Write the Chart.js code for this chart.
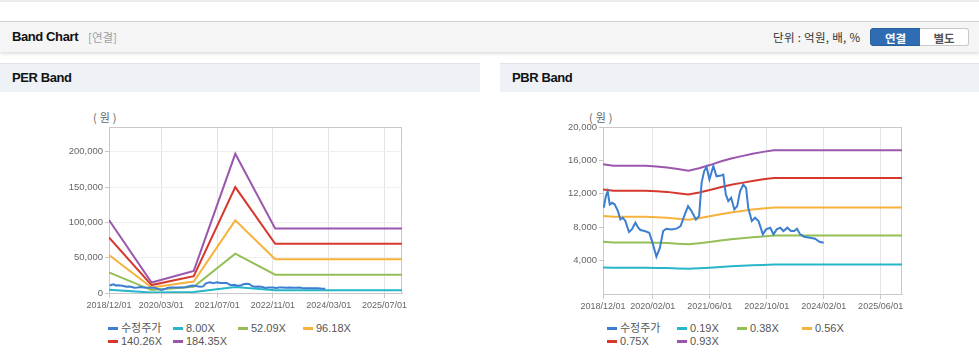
<!DOCTYPE html>
<html><head><meta charset="utf-8">
<script src="https://cdn.jsdelivr.net/npm/chart.js@4.4.1/dist/chart.umd.min.js"></script>
<style>
html,body{margin:0;padding:0;background:#fff;}
body{width:979px;height:361px;position:relative;overflow:hidden;font-family:"Liberation Sans","Noto Sans CJK KR",sans-serif;}
.topline{position:absolute;left:0;top:0;width:979px;height:2px;background:#ebebeb;}
.hdr{position:absolute;left:0;top:21px;width:979px;height:30px;background:#f5f5f5;border-top:1px solid #d0d0d0;box-shadow:0 2px 3px rgba(0,0,0,0.13);}
.hdr .t{position:absolute;left:12px;top:7px;font-size:13px;font-weight:bold;color:#111;letter-spacing:-0.4px;}
.hdr .s{position:absolute;left:88px;top:8px;font-size:11.5px;color:#9a9fa8;font-family:"Noto Sans CJK KR",sans-serif;line-height:14px;}
.hdr .u{position:absolute;left:773px;top:8px;font-size:11.5px;color:#333;font-family:"Noto Sans CJK KR",sans-serif;line-height:14px;letter-spacing:0.3px;}
.btn{position:absolute;top:6px;height:18px;line-height:18px;text-align:center;font-size:11.5px;font-weight:bold;font-family:"Noto Sans CJK KR",sans-serif;box-sizing:border-box;}
.b1{left:870px;width:51px;background:#2e6db3;color:#fff;border-radius:3px 0 0 3px;border:1px solid #285f9c;}
.b2{left:920px;width:49px;background:#fff;color:#555;border:1px solid #c8c8c8;border-left:none;border-radius:0 3px 3px 0;}
.ph{position:absolute;top:63px;height:28px;background:#eef2f7;border-top:1px solid #dfe4ea;}
.ph span{position:absolute;left:12px;top:6px;font-size:13px;font-weight:bold;color:#111;letter-spacing:-0.4px;}
.unit{position:absolute;font-size:11px;color:#666;font-family:"Noto Sans CJK KR",sans-serif;line-height:12px;letter-spacing:3px;}
canvas{position:absolute;}
.lg{position:absolute;font-size:11px;color:#555;line-height:13px;}
.lg .row{display:flex;height:13px;}
.lg .it{display:flex;align-items:center;white-space:nowrap;}
.lg .mk{display:inline-block;width:10px;height:3px;margin-right:3px;}
.lg .tx{font-family:"Liberation Sans","Noto Sans CJK KR",sans-serif;}
</style>
</head>
<body>
<div class="topline"></div>
<div class="hdr"><span class="t">Band Chart</span><span class="s">[연결]</span><span class="u">단위 : 억원, 배, %</span><div class="btn b1">연결</div><div class="btn b2">별도</div></div>
<div class="ph" style="left:0;width:480px;"><span>PER Band</span></div>
<div class="ph" style="left:500px;width:479px;"><span>PBR Band</span></div>
<div class="unit" style="left:93px;top:111px;">(원)</div>
<div class="unit" style="left:589px;top:111px;">(원)</div>
<canvas id="per" width="480" height="225" style="left:0;top:95px;"></canvas>
<canvas id="pbr" width="479" height="225" style="left:500px;top:95px;"></canvas>
<div class="lg" id="lgPer" style="left:108px;top:322px;"></div>
<div class="lg" id="lgPbr" style="left:607px;top:322px;"></div>
<script>
// ---------- data ----------
const axisStart = '2018/12/01';
const axisEnd = '2025/12/01';

const perTickLabels = ['2018/12/01','2020/03/01','2021/07/01','2022/11/01','2024/03/01','2025/07/01'];
const pbrTickLabels = ['2018/12/01','2020/02/01','2021/06/01','2022/10/01','2024/02/01','2025/06/01'];
const perYTicks = [0, 50000, 100000, 150000, 200000];
const pbrYTicks = [4000, 8000, 12000, 16000, 20000];

const priceDates = ['2018/12/07','2018/12/25','2019/01/10','2019/01/28','2019/02/19','2019/03/10','2019/04/07','2019/04/28','2019/05/19','2019/06/10','2019/07/10','2019/08/04','2019/09/04','2019/09/28','2019/10/16','2019/11/22','2020/01/01','2020/01/28','2020/03/01','2020/04/01','2020/04/28','2020/05/25','2020/07/10','2020/08/25','2020/09/25','2020/11/01','2020/11/28','2020/12/28','2021/02/04','2021/03/01','2021/03/22','2021/04/13','2021/05/04','2021/05/28','2021/06/10','2021/07/01','2021/07/28','2021/09/04','2021/09/25','2021/10/16','2021/11/07','2021/12/01','2021/12/28','2022/01/22','2022/02/16','2022/03/13','2022/04/07','2022/04/25','2022/05/25','2022/06/22','2022/07/22','2022/08/28','2022/09/25','2022/11/01','2022/11/28','2022/12/25','2023/01/25','2023/02/22','2023/03/25','2023/04/25','2023/05/22','2023/06/16','2023/07/13','2023/08/16','2023/10/07','2023/11/19','2023/12/25','2024/02/01'];
const priceValues = [10330,11710,12310,10720,10920,10720,9920,8930,9130,8730,7420,7740,8540,7940,7660,7540,7340,6150,4470,5550,7540,7820,7740,7860,8130,9530,10520,9920,8930,9330,13310,14700,15220,13710,14300,15300,14100,14180,14300,11920,11120,11520,10130,10520,12310,13110,12710,10330,8730,9130,8730,7140,7740,7940,7140,7740,7940,7540,7940,7540,7540,7820,7140,6860,6740,6620,6260,6150];

const perBandDates = ['2018/12/01','2019/12/07','2020/12/10','2021/12/07','2022/11/20','2025/12/01'];
const per800 = [4480, 640, 1360, 8550, 3970, 3970];
const per5209 = [29170, 4170, 8860, 55680, 25840, 25840];
const per9618 = [53860, 7690, 16350, 102820, 47710, 47710];
const per14026 = [78550, 11220, 23840, 149940, 69570, 69570];
const per18435 = [103240, 14750, 31340, 197070, 91440, 91440];

const pbrBandDates = ['2018/12/01','2019/03/01','2019/12/01','2020/03/01','2020/06/01','2020/09/01','2020/12/01','2021/03/01','2021/06/01','2021/09/01','2021/12/01','2022/03/01','2022/06/01','2022/09/01','2022/12/01','2025/12/01'];
const pbr019 = [3170,3140,3140,3120,3100,3060,3020,3080,3150,3240,3320,3370,3430,3480,3520,3520];
const pbr038 = [6250,6180,6180,6150,6100,6030,5950,6080,6230,6400,6560,6680,6800,6900,7000,7000];
const pbr056 = [9350,9240,9240,9200,9130,9020,8890,9070,9300,9550,9770,9940,10110,10250,10360,10360];
const pbr075 = [12530,12380,12380,12320,12230,12080,11910,12150,12450,12790,13090,13310,13540,13730,13880,13880];
const pbr093 = [15530,15350,15350,15270,15160,14970,14770,15070,15440,15860,16230,16510,16790,17020,17210,17210];

const perLabels = ['수정주가','8.00X','52.09X','96.18X','140.26X','184.35X'];
const pbrLabels = ['수정주가','0.19X','0.38X','0.56X','0.75X','0.93X'];

// ---------- styles ----------
const colors = ['#3c7fd1','#27b6c8','#93bf55','#f6b23d','#d6382d','#9b57ad'];

function monthIndex(s){
  const [y,m,d] = s.split('/').map(Number);
  const [y0,m0,d0] = axisStart.split('/').map(Number);
  return (y - y0) * 12 + (m - m0) + (d - d0) / 30;
}
function pts(dates, vals){ return dates.map((d,i)=>({x: monthIndex(d), y: vals[i]})); }

const frame = {
  id: 'frame',
  beforeDatasetsDraw(chart){
    const a = chart.chartArea, c = chart.ctx;
    c.save(); c.strokeStyle = '#c9c9c9'; c.lineWidth = 1;
    c.strokeRect(Math.round(a.left)+0.5, Math.round(a.top)+0.5, Math.round(a.right-a.left)-1, Math.round(a.bottom-a.top));
    c.restore();
  }
};

function makeChart(id, labels, series, tickLabels, yTicks, yMax, yAxisWidth, padRight, xHeight, hGrid){
  const datasets = series.map((s,i)=>({
    label: labels[i], data: s, borderColor: colors[i], backgroundColor: colors[i],
    borderWidth: 2, pointRadius: 0, tension: 0, fill: false
  }));
  return new Chart(document.getElementById(id), {
    type: 'line',
    data: { datasets },
    plugins: [frame],
    options: {
      responsive: false, animation: false, devicePixelRatio: 1,
      layout: { padding: { left: 0, top: 32, right: padRight, bottom: 0 } },
      plugins: { legend: { display: false }, tooltip: { enabled: false } },
      scales: {
        x: {
          type: 'linear', bounds: 'data',
          min: monthIndex(axisStart), max: monthIndex(axisEnd),
          afterBuildTicks: ax => { ax.ticks = tickLabels.map(t => ({ value: monthIndex(t) })); },
          afterFit: ax => { ax.height = xHeight; },
          ticks: { autoSkip: false, maxRotation: 0, padding: 2, color: '#666',
            font: { family: 'Liberation Sans', size: 9 },
            callback: (v, i) => tickLabels[i] },
          grid: { color: '#e4e4e4', tickColor: '#c9c9c9', tickLength: 5 },
          border: { color: '#c9c9c9' }
        },
        y: {
          type: 'linear', bounds: 'data', min: 0, max: yMax,
          afterBuildTicks: ax => { ax.ticks = yTicks.map(v => ({ value: v })); },
          afterFit: ax => { ax.width = yAxisWidth; },
          ticks: { padding: 2, color: '#666', font: { family: 'Liberation Sans', size: 9.5 },
            callback: v => Number(v).toLocaleString('en-US') },
          grid: { color: hGrid, tickColor: '#c9c9c9', tickLength: 4 },
          border: { color: '#c9c9c9' }
        }
      }
    }
  });
}

const perChart = makeChart('per', perLabels, [
  pts(priceDates, priceValues), pts(perBandDates, per800), pts(perBandDates, per5209),
  pts(perBandDates, per9618), pts(perBandDates, per14026), pts(perBandDates, per18435)
], perTickLabels, perYTicks, 235000, 109, 78, 27, '#efefef');

const pbrChart = makeChart('pbr', pbrLabels, [
  pts(priceDates, priceValues), pts(pbrBandDates, pbr019), pts(pbrBandDates, pbr038),
  pts(pbrBandDates, pbr056), pts(pbrBandDates, pbr075), pts(pbrBandDates, pbr093)
], pbrTickLabels, pbrYTicks, 20000, 103, 77, 26, 'rgba(0,0,0,0)');

function buildLegend(chart, el, cols){
  const ds = chart.data.datasets;
  for (let r = 0; r < ds.length; r += cols.length){
    const row = document.createElement('div'); row.className = 'row';
    ds.slice(r, r + cols.length).forEach((d, j) => {
      const it = document.createElement('div'); it.className = 'it'; it.style.width = cols[j] + 'px';
      const mk = document.createElement('span'); mk.className = 'mk'; mk.style.background = d.borderColor;
      const tx = document.createElement('span'); tx.className = 'tx'; tx.textContent = d.label;
      it.appendChild(mk); it.appendChild(tx); row.appendChild(it);
    });
    el.appendChild(row);
  }
}
buildLegend(perChart, document.getElementById('lgPer'), [65,65,65,65]);
buildLegend(pbrChart, document.getElementById('lgPbr'), [70,60,65,65]);
</script>
</body></html>
